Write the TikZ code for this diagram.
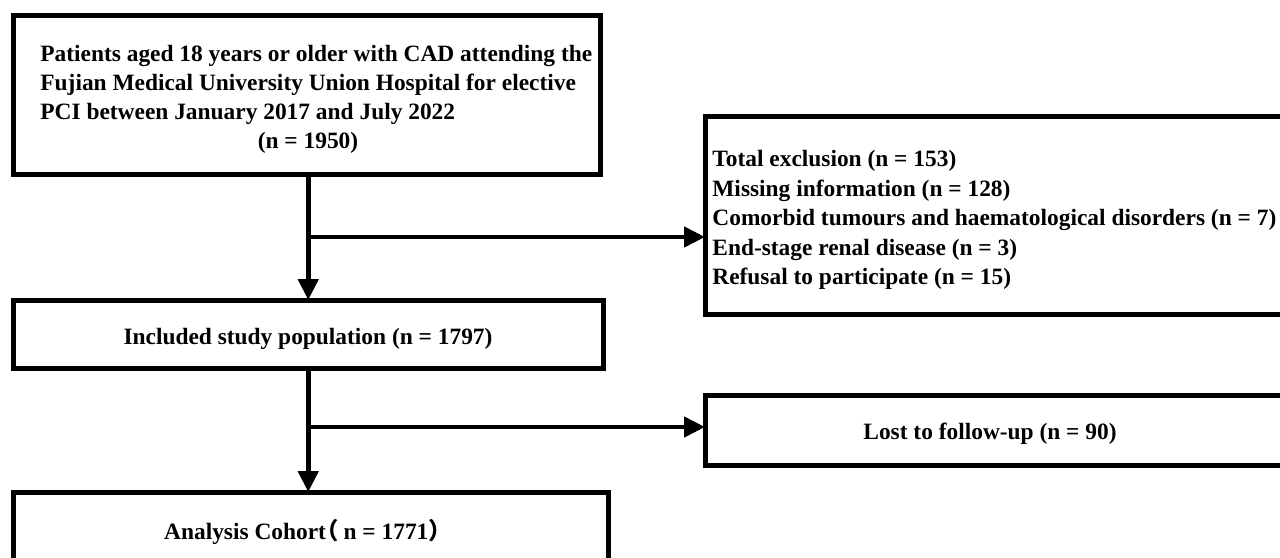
\documentclass[tikz,border=0pt]{standalone}
\usepackage{fontspec}
\setmainfont{Liberation Serif}
\newfontfamily\cjkfont{Noto Sans CJK SC}
\usetikzlibrary{arrows.meta,calc}
\begin{document}
\begin{tikzpicture}[x=0.5pt,y=-0.5pt,
  box/.style={draw, line width=2.5pt, outer sep=0pt, inner sep=0pt, anchor=north west},
  arr/.style={line width=2.4pt, -{Triangle[length=10.5pt,width=10pt]}},
  txt/.style={font=\bfseries\fontsize{11.7}{14.6}\selectfont, inner sep=0pt, text=black}]
\clip (0,0) rectangle (1280,557);
\fill[white] (0,0) rectangle (1280,557);
% boxes
\node[box, minimum width=293.25pt, minimum height=79.5pt] (b1) at (13.5,15) {};
\node[box, minimum width=294.75pt, minimum height=34pt] (b2) at (13.5,300) {};
\node[box, minimum width=297.25pt, minimum height=41.5pt] (b3) at (13.5,492) {};
\node[box, minimum width=295pt, minimum height=99pt] (ex) at (705,116) {};
\node[box, minimum width=295pt, minimum height=35pt] (lost) at (705,395) {};
% texts
\node[txt, anchor=west, align=left] (t1) at (40,85) {Patients aged 18 years or older with CAD attending the\\Fujian Medical University Union Hospital for elective\\PCI between January 2017 and July 2022};
\node[txt] (t1n) at (308,143) {(n = 1950)};
\node[txt, align=left, anchor=west, font=\bfseries\fontsize{11.7}{14.75}\selectfont] (tex) at (712,220) {Total exclusion (n = 153)\\Missing information (n = 128)\\Comorbid tumours and haematological disorders (n = 7)\\End-stage renal disease (n = 3)\\Refusal to participate (n = 15)};
\node[txt] (t2) at (308,339) {Included study population (n = 1797)};
\node[txt] (tl) at (990,434) {Lost to follow-up (n = 90)};
\node[txt] (t3) at (308,532) {Analysis Cohort\kern-0.45em{\cjkfont （}\kern0.2em n = 1771{\cjkfont ）}};
% connectors
\draw[arr] (b1.south -| b2.north) -- (b2.north);
\coordinate (j1) at (308.25,237);
\draw[arr] (j1) -- (j1 -| ex.west);
\draw[arr] (b2.south) -- (b2.south |- b3.north);
\coordinate (j2) at (308.25,427);
\draw[arr] (j2) -- (j2 -| lost.west);
\end{tikzpicture}
\end{document}
